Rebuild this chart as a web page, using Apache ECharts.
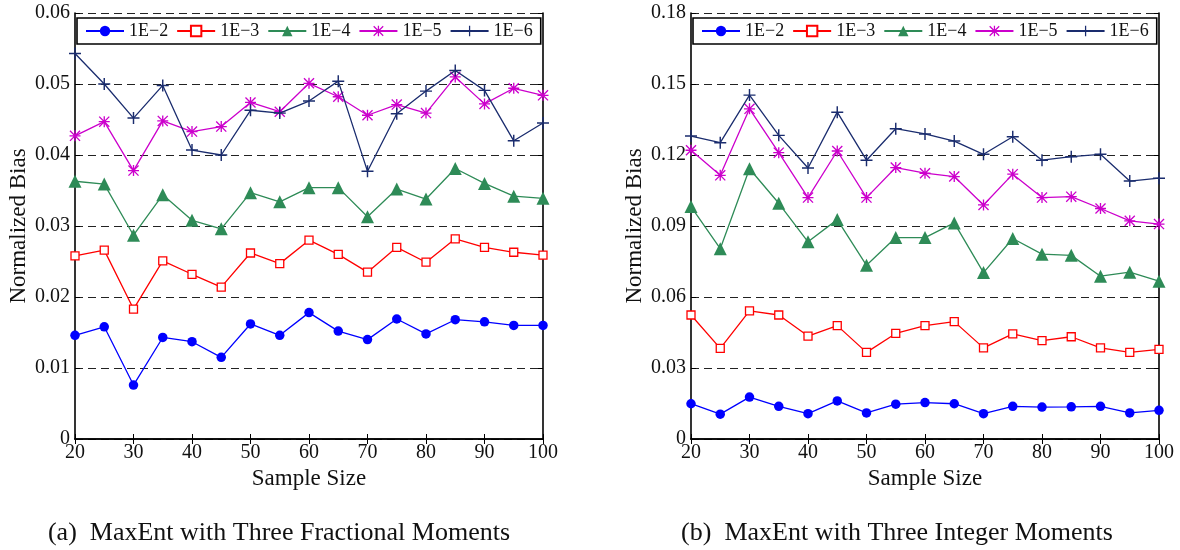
<!DOCTYPE html>
<html><head><meta charset="utf-8">
<script src="https://cdn.jsdelivr.net/npm/echarts@6/dist/echarts.min.js"></script>
<style>html,body{margin:0;padding:0;background:#fff}#c{width:1180px;height:550px}</style>
</head><body><div id="c"></div>
<script>
// ---- data ----
const sampleSizes = [20,25,30,35,40,45,50,55,60,65,70,75,80,85,90,95,100];
const seriesNames = ['1E\u22122','1E\u22123','1E\u22124','1E\u22125','1E\u22126'];
const xTicks = [20,30,40,50,60,70,80,90,100];
const leftYTicks = [0,0.01,0.02,0.03,0.04,0.05,0.06];
const rightYTicks = [0,0.03,0.06,0.09,0.12,0.15,0.18];
const captions = ['(a)  MaxEnt with Three Fractional Moments','(b)  MaxEnt with Three Integer Moments'];
const xTitle = 'Sample Size';
const yTitle = 'Normalized Bias';

const frac_1e2 = [0.0146,0.0158,0.0076,0.0143,0.0137,0.0115,0.0162,0.0146,0.0178,0.0152,0.0140,0.0169,0.0148,0.0168,0.0165,0.0160,0.0160];
const frac_1e3 = [0.0258,0.0266,0.0183,0.0251,0.0232,0.0214,0.0262,0.0247,0.0280,0.0260,0.0235,0.0270,0.0249,0.0282,0.0270,0.0263,0.0259];
const frac_1e4 = [0.0363,0.0359,0.0287,0.0344,0.0308,0.0296,0.0347,0.0334,0.0354,0.0354,0.0313,0.0352,0.0338,0.0381,0.0360,0.0342,0.0339];
const frac_1e5 = [0.0427,0.0447,0.0378,0.0448,0.0433,0.0440,0.0474,0.0461,0.0501,0.0482,0.0456,0.0471,0.0459,0.0510,0.0472,0.0494,0.0484];
const frac_1e6 = [0.0543,0.0500,0.0452,0.0498,0.0407,0.0400,0.0463,0.0459,0.0476,0.0504,0.0377,0.0458,0.0490,0.0519,0.0491,0.0420,0.0445];

const int_1e2 = [0.0149,0.0105,0.0177,0.0138,0.0107,0.0161,0.0110,0.0147,0.0154,0.0149,0.0107,0.0138,0.0135,0.0136,0.0138,0.0110,0.0121];
const int_1e3 = [0.0524,0.0383,0.0541,0.0524,0.0435,0.0479,0.0366,0.0446,0.0479,0.0496,0.0385,0.0444,0.0416,0.0432,0.0385,0.0366,0.0379];
const int_1e4 = [0.0982,0.0804,0.1142,0.0996,0.0833,0.0927,0.0734,0.0851,0.0851,0.0913,0.0703,0.0847,0.0781,0.0776,0.0688,0.0705,0.0667];
const int_1e5 = [0.1220,0.1114,0.1395,0.1210,0.1020,0.1217,0.1020,0.1147,0.1123,0.1109,0.0989,0.1119,0.1020,0.1024,0.0974,0.0922,0.0908];
const int_1e6 = [0.1280,0.1252,0.1453,0.1283,0.1145,0.1381,0.1178,0.1311,0.1289,0.1259,0.1203,0.1277,0.1178,0.1193,0.1203,0.1090,0.1102];

// ---- styles ----
const FONT = "'Liberation Serif','DejaVu Serif',serif";
const TXT = '#111';
const colors = ['#0000FF','#FF0000','#2E8B57','#CC00CC','#1A2C6E'];
const plusPath = 'path://M0,4.4H10V5.6H0Z M4.4,0H5.6V10H4.4Z';
const starPath = 'path://M0,4.4H10V5.6H0Z M4.4,0H5.6V10H4.4Z M0.85,0L10,9.15L9.15,10L0,0.85Z M9.15,0L10,0.85L0.85,10L0,9.15Z';
const markers = [
  {symbol:'circle', symbolSize:9.5, itemStyle:{color:colors[0]}},
  {symbol:'rect', symbolSize:8, itemStyle:{color:'#fff', borderColor:colors[1], borderWidth:1.3}},
  {symbol:'triangle', symbolSize:13, itemStyle:{color:colors[2]}},
  {symbol:starPath, symbolSize:11, itemStyle:{color:colors[3]}},
  {symbol:plusPath, symbolSize:12, itemStyle:{color:colors[4]}}
];

const grids = [
  {left:75, width:468, top:13, height:426},
  {left:691, width:468, top:13, height:426}
];

function fmt(v){ return v === 0 ? '0' : v.toFixed(2); }

const xAxes = [], yAxes = [], series = [], legends = [];
const charts = [
  {ticks:leftYTicks, data:[frac_1e2,frac_1e3,frac_1e4,frac_1e5,frac_1e6], legendLeft:77},
  {ticks:rightYTicks, data:[int_1e2,int_1e3,int_1e4,int_1e5,int_1e6], legendLeft:693}
];
const axisLine = {show:true, lineStyle:{color:'#000', width:1.6}};
charts.forEach((c, gi) => {
  const ymax = c.ticks[c.ticks.length-1];
  const yint = c.ticks[1]-c.ticks[0];
  xAxes.push({
    type:'value', gridIndex:gi, position:'bottom', min:xTicks[0], max:xTicks[xTicks.length-1], interval:10,
    axisLine, axisTick:{show:true, inside:true, length:5, lineStyle:{color:'#000', width:1}},
    axisLabel:{fontFamily:FONT, fontSize:20, color:TXT, margin:4},
    splitLine:{show:false},
    name:xTitle, nameLocation:'middle', nameGap:26,
    nameTextStyle:{fontFamily:FONT, fontSize:23, color:TXT}
  });
  xAxes.push({
    type:'value', gridIndex:gi, position:'top', min:xTicks[0], max:xTicks[xTicks.length-1], interval:10,
    axisLine, axisTick:{show:true, inside:true, length:5, lineStyle:{color:'#000', width:1}},
    axisLabel:{show:false}, splitLine:{show:false}
  });
  yAxes.push({
    type:'value', gridIndex:gi, position:'left', min:0, max:ymax, interval:yint,
    axisLine, axisTick:{show:true, inside:true, length:5, lineStyle:{color:'#000', width:1}},
    axisLabel:{fontFamily:FONT, fontSize:20, color:TXT, margin:5, formatter:fmt},
    splitLine:{show:true, lineStyle:{color:'#222', width:1, type:[8,5]}},
    name:yTitle, nameLocation:'middle', nameGap:45,
    nameTextStyle:{fontFamily:FONT, fontSize:23, color:TXT}
  });
  yAxes.push({
    type:'value', gridIndex:gi, position:'right', min:0, max:ymax, interval:yint,
    axisLine, axisTick:{show:true, inside:true, length:5, lineStyle:{color:'#000', width:1}},
    axisLabel:{show:false}, splitLine:{show:false}
  });
  c.data.forEach((vals, si) => {
    series.push(Object.assign({
      type:'line', name:seriesNames[si], xAxisIndex:gi*2, yAxisIndex:gi*2,
      data: sampleSizes.map((x, i) => [x, vals[i]]),
      lineStyle:{color:colors[si], width:1.3},
      showAllSymbol:true, animation:false, z: 2 + si
    }, markers[si]));
  });
  legends.push({
    left:c.legendLeft, top:18, orient:'horizontal',
    data:seriesNames,
    itemWidth:38, itemHeight:13, itemGap:8,
    padding:[4,8,4,8],
    borderColor:'#000', borderWidth:1.6, backgroundColor:'#fff',
    textStyle:{fontFamily:FONT, fontSize:18, color:TXT}
  });
});

const graphic = captions.map((t, i) => ({
  type:'text', x: i===0 ? 279 : 897, y:533,
  style:{text:t, fontFamily:FONT, fontSize:26, fill:TXT, textAlign:'center', textVerticalAlign:'middle'}
}));

const chart = echarts.init(document.getElementById('c'), null, {renderer:'canvas'});
chart.setOption({
  backgroundColor:'#fff',
  animation:false,
  grid:grids,
  xAxis:xAxes,
  yAxis:yAxes,
  legend:legends,
  series:series,
  graphic:graphic
});
</script>
</body></html>
